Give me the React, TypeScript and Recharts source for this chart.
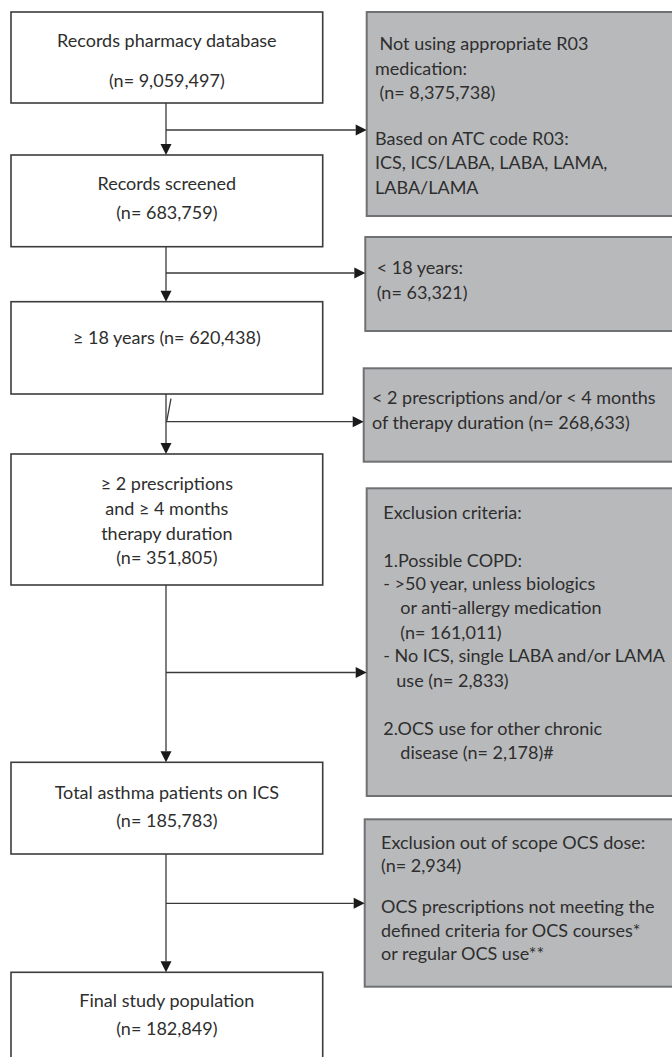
import React from 'react';
import { ComposedChart, XAxis, YAxis, ReferenceArea, ReferenceLine } from 'recharts';

const W = 672;
const H = 1057;

// ---- content (data) ----
const stepNames = [
  'Records pharmacy database',
  'Records screened',
  '≥ 18 years',
  '≥ 2 prescriptions and ≥ 4 months therapy duration',
  'Total asthma patients on ICS',
  'Final study population',
];
const stepCounts = [9059497, 683759, 620438, 351805, 185783, 182849];
const exclusionCounts = [8375738, 63321, 268633, 161011, 2833, 2178, 2934];

const fmt = (n: number) => `(n= ${n.toLocaleString('en-US')})`;

const mainLines: string[][] = [
  [stepNames[0], fmt(stepCounts[0])],
  [stepNames[1], fmt(stepCounts[1])],
  [`${stepNames[2]} ${fmt(stepCounts[2])}`],
  ['≥ 2 prescriptions', 'and ≥ 4 months', 'therapy duration', fmt(stepCounts[3])],
  [stepNames[4], fmt(stepCounts[4])],
  [stepNames[5], fmt(stepCounts[5])],
];

const exclLines: string[][] = [
  [' Not using appropriate R03', 'medication:', ' ' + fmt(exclusionCounts[0]), 'Based on ATC code R03:', 'ICS, ICS/LABA, LABA, LAMA,', 'LABA/LAMA'],
  ['< 18 years:', fmt(exclusionCounts[1])],
  ['< 2 prescriptions and/or < 4 months', `of therapy duration ${fmt(exclusionCounts[2])}`],
  ['Exclusion criteria:', '1.Possible COPD:', '- >50 year, unless biologics', 'or anti-allergy medication', fmt(exclusionCounts[3]), '- No ICS, single LABA and/or LAMA', `use ${fmt(exclusionCounts[4])}`, '2.OCS use for other chronic', `disease ${fmt(exclusionCounts[5])}#`],
  ['Exclusion out of scope OCS dose:', fmt(exclusionCounts[6]), 'OCS prescriptions not meeting the', 'defined criteria for OCS courses*', 'or regular OCS use**'],
];

// ---- layout (chart coordinates) ----
const mainLayout = [
  { y1: 12, y2: 103, ys: [40, 80] },
  { y1: 155, y2: 246.7, ys: [183, 212] },
  { y1: 301.7, y2: 394, ys: [336.7] },
  { y1: 454, y2: 585, ys: [483, 508, 533, 557] },
  { y1: 762.3, y2: 854, ys: [791.7, 820] },
  { y1: 972.3, y2: 1075, ys: [1000, 1028.3] },
];
const mainX1 = 11;
const mainX2 = 322.7;
const spineX = 166;

const exclLayout = [
  { x1: 366.7, y1: 12, y2: 216, tx: 375, ys: [43, 68, 92, 138, 162, 187], ind: [0, 0, 0, 0, 0, 0], arrowY: 130 },
  { x1: 365.3, y1: 237, y2: 331, tx: 376.7, ys: [266.7, 291.7], ind: [0, 0], arrowY: 273 },
  { x1: 363.7, y1: 368.3, y2: 461.7, tx: 372, ys: [396.7, 421.7], ind: [0, 0], arrowY: 421.7 },
  { x1: 366.7, y1: 488.3, y2: 796, tx: 383.3, ys: [511.7, 560, 583.3, 606.7, 631.7, 655, 680, 728.3, 751.7], ind: [0, 0, 0, 17, 17, 0, 13, 0, 17], arrowY: 672.5 },
  { x1: 364.7, y1: 819.3, y2: 986.7, tx: 381, ys: [841.7, 865, 906, 930, 953.3], ind: [0, 0, 0, 0, 0], arrowY: 903.3 },
];

const FONT = 'Lato, "Open Sans", sans-serif';
const FS = 18;
const TEXT = '#2e2e2e';
const LINE = '#3a3a3a';

const Arrow = (props: any) => {
  const { x1, y1, x2, y2 } = props;
  const dx = x2 - x1;
  const dy = y2 - y1;
  const len = Math.sqrt(dx * dx + dy * dy) || 1;
  const ux = dx / len;
  const uy = dy / len;
  const L = 11;
  const hw = 5.5;
  const bx = x2 - ux * L;
  const by = y2 - uy * L;
  const pts = `${x2},${y2} ${bx - uy * hw},${by + ux * hw} ${bx + uy * hw},${by - ux * hw}`;
  return (
    <g>
      <line x1={x1} y1={y1} x2={bx} y2={by} stroke={LINE} strokeWidth={1.3} />
      <polygon points={pts} fill="#1a1a1a" />
    </g>
  );
};

const Plain = (props: any) => {
  const { x1, y1, x2, y2 } = props;
  return <line x1={x1} y1={y1} x2={x2} y2={y2} stroke={LINE} strokeWidth={1.3} />;
};

export default function App() {
  return (
    <div style={{ position: 'absolute', left: 0, top: 0, width: W, height: H, background: '#fff' }}>
      <ComposedChart width={W} height={H} data={[]} margin={{ top: 0, right: 0, bottom: 0, left: 0 }}>
        <XAxis type="number" dataKey="x" domain={[0, W]} hide allowDataOverflow />
        <YAxis type="number" dataKey="y" domain={[0, H]} reversed hide allowDataOverflow />

        {mainLayout.map((b, i) => (
          <ReferenceArea
            key={`m${i}`}
            x1={mainX1}
            x2={mainX2}
            y1={b.y1}
            y2={b.y2}
            ifOverflow="visible"
            shape={(p: any) => (
              <g>
                <rect x={p.x} y={p.y} width={p.width} height={p.height} fill="#ffffff" stroke="#3c3c3c" strokeWidth={1.6} />
                {mainLines[i].map((t, j) => (
                  <text
                    key={j}
                    x={p.x + p.width / 2}
                    y={p.y + (b.ys[j] - b.y1)}
                    textAnchor="middle"
                    dominantBaseline="central"
                    fontFamily={FONT}
                    fontSize={FS}
                    fill={TEXT}
                  >
                    {t}
                  </text>
                ))}
              </g>
            )}
          />
        ))}

        {exclLayout.map((b, i) => (
          <ReferenceArea
            key={`e${i}`}
            x1={b.x1}
            x2={W + 20}
            y1={b.y1}
            y2={b.y2}
            ifOverflow="visible"
            shape={(p: any) => (
              <g>
                <rect x={p.x} y={p.y} width={p.width} height={p.height} fill="#b8b9bb" stroke="#707174" strokeWidth={2} />
                {exclLines[i].map((t, j) => (
                  <text
                    key={j}
                    x={p.x + (b.tx - b.x1) + b.ind[j]}
                    y={p.y + (b.ys[j] - b.y1)}
                    dominantBaseline="central"
                    fontFamily={FONT}
                    fontSize={FS}
                    fill={TEXT}
                    style={{ whiteSpace: 'pre' }}
                  >
                    {t}
                  </text>
                ))}
              </g>
            )}
          />
        ))}

        {mainLayout.slice(0, -1).map((b, i) => (
          <ReferenceLine
            key={`v${i}`}
            segment={[{ x: spineX, y: b.y2 }, { x: spineX, y: mainLayout[i + 1].y1 }]}
            ifOverflow="visible"
            shape={Arrow}
          />
        ))}

        {exclLayout.map((b, i) => (
          <ReferenceLine
            key={`h${i}`}
            segment={[{ x: spineX, y: b.arrowY }, { x: b.x1, y: b.arrowY }]}
            ifOverflow="visible"
            shape={Arrow}
          />
        ))}

        <ReferenceLine
          segment={[{ x: 171, y: 398.7 }, { x: 166.7, y: 421.7 }]}
          ifOverflow="visible"
          shape={Plain}
        />
      </ComposedChart>
    </div>
  );
}
